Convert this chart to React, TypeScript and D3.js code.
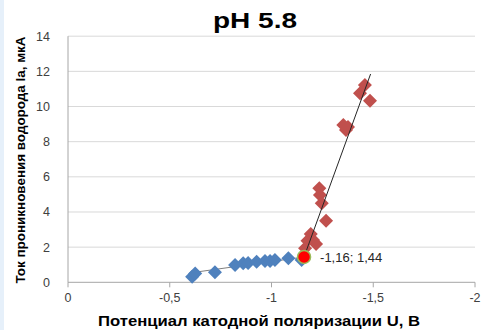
import React from "react";
import * as d3 from "d3";

const blueX = [-0.61, -0.625, -0.722, -0.821, -0.861, -0.885, -0.927, -0.968, -0.993, -1.017, -1.083, -1.148];
const blueY = [0.32, 0.5, 0.57, 0.98, 1.08, 1.1, 1.17, 1.21, 1.21, 1.27, 1.37, 1.27];
const redX = [-1.459, -1.435, -1.484, -1.353, -1.366, -1.376, -1.235, -1.238, -1.247, -1.268, -1.193, -1.204, -1.177, -1.219, -1.165];
const redY = [11.22, 10.75, 10.33, 8.95, 8.66, 8.83, 5.35, 4.97, 4.49, 3.5, 2.75, 2.41, 2.37, 2.18, 1.93];
const blueTrendX = [-0.61, -1.16];
const blueTrendY = [0.55, 1.44];
const redTrendX = [-1.16, -1.487];
const redTrendY = [1.44, 11.85];
const crossX = -1.16;
const crossY = 1.44;
const crossLabel = "-1,16; 1,44";
const xTicks = [0, -0.5, -1, -1.5, -2];
const yTicks = [0, 2, 4, 6, 8, 10, 12, 14];
const title = "pH 5.8";
const xTitle = "Потенциал катодной поляризации U, В";
const yTitle = "Ток проникновения водорода  Ia, мкА";

export default function App() {
  const W = 486, H = 330;
  const x = d3.scaleLinear().domain([0, -2]).range([68, 475]);
  const y = d3.scaleLinear().domain([0, 14]).range([282.3, 36.2]);
  const fmt = (v: number) => (v === 0 ? "0" : String(v).replace(".", ","));
  const line = d3.line<[number, number]>().x(d => x(d[0])).y(d => y(d[1]));
  const diamond = (cx: number, cy: number, r: number) =>
    `M${cx},${cy - r}L${cx + r},${cy}L${cx},${cy + r}L${cx - r},${cy}Z`;
  const font = "'Liberation Sans', Arial, sans-serif";
  return (
    <svg width={W} height={H} style={{ position: "absolute", left: 0, top: 0 }} fontFamily={font}>
      <rect x={0} y={0} width={W} height={H} fill="#ffffff" />
      <rect x={0} y={0} width={4} height={H} fill="#e6f0fa" />
      <text x={255} y={28} textAnchor="middle" fontSize={22} fontWeight="bold" fill="#000"
        textLength={84} lengthAdjust="spacingAndGlyphs">{title}</text>
      {yTicks.map(t => (
        <line key={"g" + t} x1={68} x2={475} y1={y(t)} y2={y(t)} stroke={t === 0 ? "#a6a6a6" : "#d9d9d9"} strokeWidth={1} />
      ))}
      <line x1={68} x2={68} y1={y(14)} y2={y(0)} stroke="#a6a6a6" />
      {xTicks.map(t => (
        <g key={"x" + t}>
          <line x1={x(t)} x2={x(t)} y1={y(0)} y2={y(0) + 5} stroke="#a6a6a6" />
          <text x={x(t)} y={y(0) + 20} textAnchor="middle" fontSize={12.5} fill="#404040">{fmt(t)}</text>
        </g>
      ))}
      {yTicks.map(t => (
        <text key={"yl" + t} x={50} y={y(t) + 4.5} textAnchor="end" fontSize={12.5} fill="#404040">{t}</text>
      ))}
      <path d={line(blueTrendX.map((v, i) => [v, blueTrendY[i]]) as any) || ""} stroke="#7f7f7f" strokeWidth={1} fill="none" />
      {blueX.map((v, i) => (
        <path key={"b" + i} d={diamond(x(v), y(blueY[i]), 7)} fill="#4f81bd" />
      ))}
      {redX.map((v, i) => (
        <path key={"r" + i} d={diamond(x(v), y(redY[i]), 7)} fill="#c0504d" />
      ))}
      <path d={line(redTrendX.map((v, i) => [v, redTrendY[i]]) as any) || ""} stroke="#262626" strokeWidth={1} fill="none" />
      <circle cx={x(crossX)} cy={y(crossY)} r={6.5} fill="#ff0000" stroke="#9bbb59" strokeWidth={1.5} />
      <text x={x(crossX) + 16} y={y(crossY) + 5} fontSize={13} fill="#262626">{crossLabel}</text>
      <text x={259} y={326} textAnchor="middle" fontSize={14.5} fontWeight="bold" fill="#000"
        textLength={322} lengthAdjust="spacingAndGlyphs">{xTitle}</text>
      <text transform={`translate(25,160) rotate(-90)`} textAnchor="middle" fontSize={13.5} fontWeight="bold" fill="#000"
        textLength={247} lengthAdjust="spacingAndGlyphs">{yTitle}</text>
    </svg>
  );
}
